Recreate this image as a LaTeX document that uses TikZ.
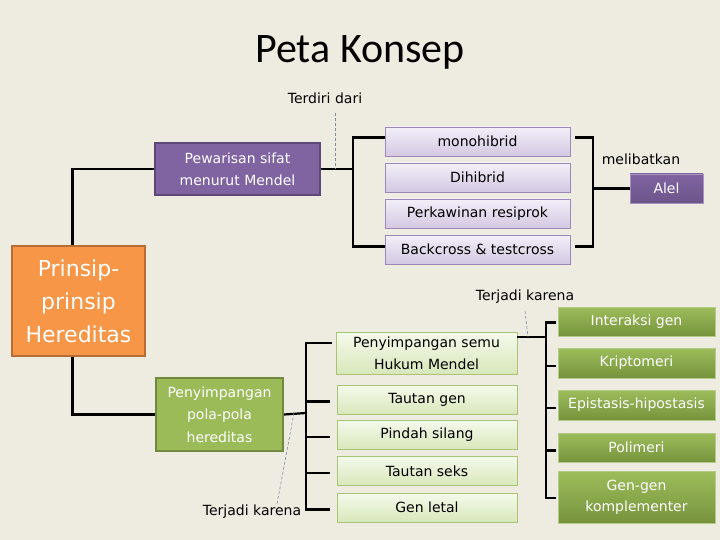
\documentclass[tikz,border=0pt]{standalone}
\usepackage{fontspec}
\setmainfont{DejaVu Sans}
\newfontfamily\titlefont{Carlito}
\usetikzlibrary{calc}
\definecolor{bg}{HTML}{EEECE1}
\definecolor{dpurple}{HTML}{8064A2}
\definecolor{dpurpleb}{HTML}{5C4776}
\definecolor{lpurpletop}{HTML}{F3EFF8}
\definecolor{lpurplebot}{HTML}{D3C8E2}
\definecolor{lpurpleb}{HTML}{9B87B8}
\definecolor{orangef}{HTML}{F79646}
\definecolor{orangeb}{HTML}{B66D31}
\definecolor{greenf}{HTML}{9BBB59}
\definecolor{greenb}{HTML}{71893F}
\definecolor{lgreentop}{HTML}{F5FAEC}
\definecolor{lgreenbot}{HTML}{D8E7BA}
\definecolor{lgreenb}{HTML}{A9C474}
\definecolor{dgreentop}{HTML}{9DBD5B}
\definecolor{dgreenbot}{HTML}{76933C}
\definecolor{dgreenb}{HTML}{B3CB86}
\definecolor{dashc}{HTML}{7E8CA0}
\tikzset{
  bx/.style 2 args={minimum width=#1, minimum height=#2, inner sep=0pt, align=center,
    font=\fontsize{14}{22}\selectfont},
  darkp/.style={fill=dpurple, draw=dpurpleb, line width=2pt, text=white},
  alelbox/.style={top color=dpurple, bottom color=dpurple!85!black, draw=dpurple!70!white, line width=0.8pt, text=white},
  lightp/.style={top color=lpurpletop, bottom color=lpurplebot, draw=lpurpleb, line width=0.8pt, text=black},
  orbox/.style={fill=orangef, draw=orangeb, line width=2.2pt, text=white},
  grbox/.style={fill=greenf, draw=greenb, line width=2.2pt, text=white},
  lightg/.style={top color=lgreentop, bottom color=lgreenbot, draw=lgreenb, line width=0.8pt, text=black},
  darkg/.style={top color=dgreentop, bottom color=dgreenbot, draw=dgreenb, line width=0.8pt, text=white},
  conn/.style={line width=2.2pt, black},
  lbl/.style={draw=dashc, line width=0.6pt, dash pattern=on 3pt off 2pt},
  lab/.style={inner sep=1pt, font=\fontsize{14}{17}\selectfont, text=black}
}
\begin{document}
\begin{tikzpicture}[x=1pt,y=-1pt]
\fill[bg] (0,0) rectangle (720,540);
\useasboundingbox (0,0) rectangle (720,540);

\node[inner sep=0pt, font=\titlefont\fontsize{42}{46}\selectfont] (title) at (360,52) {Peta Konsep};

% boxes
\node[darkp, bx={165}{52}] (pew) at (237.5,169) {Pewarisan sifat\\menurut Mendel};
\node[lightp, bx={185}{29}] (mono) at (477.5,141.5) {monohibrid};
\node[lightp, bx={185}{29}] (dih) at (477.5,177.5) {Dihibrid};
\node[lightp, bx={185}{29}] (perk) at (477.5,213.5) {Perkawinan resiprok};
\node[lightp, bx={185}{29}] (back) at (477.5,249.5) {Backcross \& testcross};
\node[alelbox, bx={73}{29}] (alel) at (666.5,188.5) {Alel};

\node[orbox, bx={133}{110}, font=\fontsize{22}{33}\selectfont] (prin) at (78.5,301) {Prinsip-\\prinsip\\Hereditas};

\node[grbox, bx={127}{73}, font=\fontsize{14}{22.5}\selectfont] (pola) at (219.5,414.5) {Penyimpangan\\pola-pola\\hereditas};

\node[lightg, bx={181}{42}] (semu) at (426.5,353) {Penyimpangan semu\\Hukum Mendel};
\node[lightg, bx={180}{29}] (tgen) at (427,399.5) {Tautan gen};
\node[lightg, bx={180}{29}] (pindah) at (427,435) {Pindah silang};
\node[lightg, bx={180}{29}] (tseks) at (427,471) {Tautan seks};
\node[lightg, bx={180}{29}] (letal) at (427,507.5) {Gen letal};

\node[darkg, bx={157}{29}] (inter) at (636.5,321.5) {Interaksi gen};
\node[darkg, bx={157}{30}] (kripto) at (636.5,363) {Kriptomeri};
\node[darkg, bx={157}{30}] (epi) at (636.5,405) {Epistasis-hipostasis};
\node[darkg, bx={157}{29}] (poli) at (636.5,447.5) {Polimeri};
\node[darkg, bx={157}{52}, font=\fontsize{14}{21}\selectfont] (gengen) at (636.5,497) {Gen-gen\\komplementer};

% labels
\node[lab] (t1) at (325,98) {Terdiri dari};
\node[lab] (mel) at (641,159) {melibatkan};
\node[lab] (t2) at (525,297) {Terjadi karena};
\node[lab] (t3) at (252,512) {Terjadi karena};

% connectors
\draw[conn] ([xshift=-6pt]prin.north) |- (pew.west);
\draw[conn] ([xshift=-6pt]prin.south) |- (pola.west);

\coordinate (j1) at (353,169);
\draw[conn] (pew.east) -- (j1);
\draw[conn] ($(mono.west)+(0,-4)$) -| (j1) |- ($(back.west)+(0,-3)$);

\coordinate (j2) at (593,188.5);
\draw[conn] ($(mono.east)+(5,-4)$) -| (j2) |- ($(back.east)+(5,-3)$);
\draw[conn] (j2) -- (alel.west);

\coordinate (j3) at (306,413);
\draw[conn] (pola.east) -- (j3);
\draw[conn] ($(semu.west)+(-4,-10)$) -| (j3) |- ($(letal.west)+(-7,2)$);
\foreach \n in {tgen,pindah,tseks}
  \draw[conn] ($(j3 |- \n.west)+(0,2)$) -- ($(\n.west)+(-7,2)$);

\coordinate (j4) at (546,337);
\draw[conn] ($(semu.east)+(0,-16)$) -- (j4);
\draw[conn] ($(inter.west)+(-2,1)$) -| (j4) |- ($(gengen.west)+(-2,1)$);
\foreach \n in {kripto,epi,poli}
  \draw[conn] ($(j4 |- \n.west)+(0,3)$) -- ($(\n.west)+(-2,3)$);

% dashed label leaders
\coordinate (d1) at (335,169);
\draw[lbl] ($(t1.south -| d1)+(0,8)$) -- (d1);
\coordinate (d2) at (528,337);
\draw[lbl] ($(t2.south)+(0,6)$) -- (d2);
\coordinate (d3) at (294,413);
\draw[lbl] ($(t3.north)+(25,0)$) -- (d3);
\end{tikzpicture}
\end{document}
